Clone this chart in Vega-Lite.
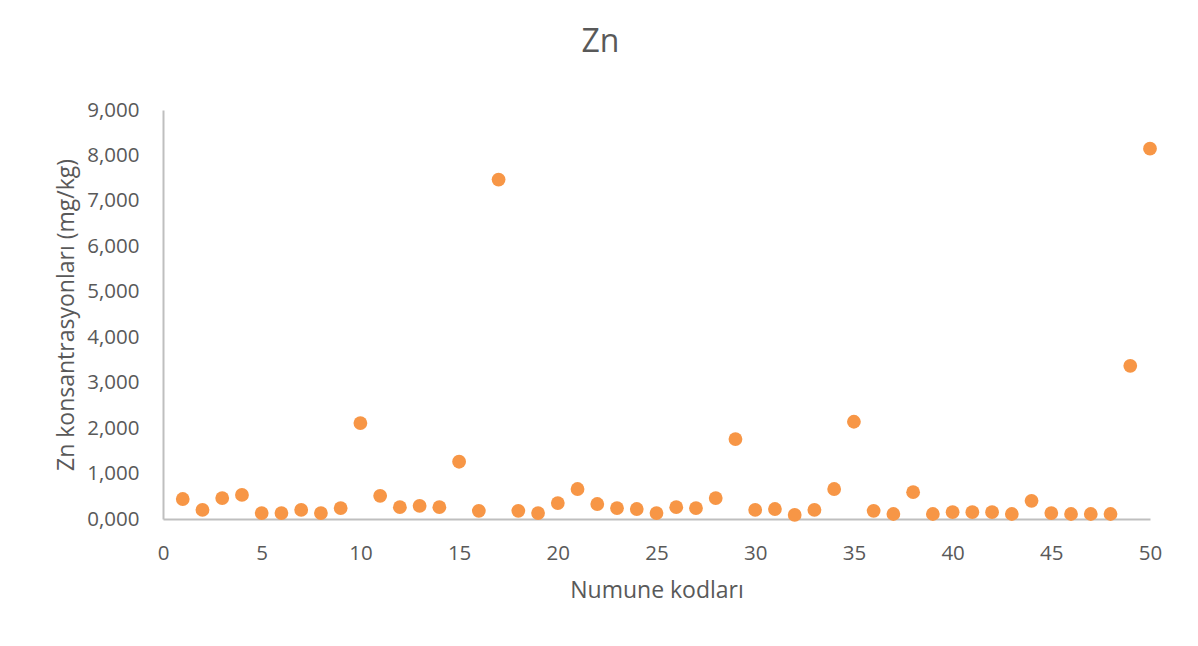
{
  "$schema": "https://vega.github.io/schema/vega-lite/v6.json",
  "autosize": "none",
  "width": 987,
  "height": 409,
  "padding": {"left": 163, "top": 110, "right": 48, "bottom": 127},
  "background": "white",
  "title": {
    "text": "Zn",
    "frame": "group",
    "anchor": "middle",
    "dx": -56,
    "offset": 41,
    "font": "Open Sans",
    "fontSize": 32,
    "fontWeight": "normal",
    "color": "#595959"
  },
  "data": {
    "values": [
      {"kod": 1, "zn": 0.44}, {"kod": 2, "zn": 0.20}, {"kod": 3, "zn": 0.46},
      {"kod": 4, "zn": 0.53}, {"kod": 5, "zn": 0.13}, {"kod": 6, "zn": 0.13},
      {"kod": 7, "zn": 0.20}, {"kod": 8, "zn": 0.13}, {"kod": 9, "zn": 0.24},
      {"kod": 10, "zn": 2.11}, {"kod": 11, "zn": 0.51}, {"kod": 12, "zn": 0.26},
      {"kod": 13, "zn": 0.29}, {"kod": 14, "zn": 0.26}, {"kod": 15, "zn": 1.26},
      {"kod": 16, "zn": 0.18}, {"kod": 17, "zn": 7.47}, {"kod": 18, "zn": 0.18},
      {"kod": 19, "zn": 0.13}, {"kod": 20, "zn": 0.35}, {"kod": 21, "zn": 0.66},
      {"kod": 22, "zn": 0.33}, {"kod": 23, "zn": 0.24}, {"kod": 24, "zn": 0.22},
      {"kod": 25, "zn": 0.13}, {"kod": 26, "zn": 0.26}, {"kod": 27, "zn": 0.24},
      {"kod": 28, "zn": 0.46}, {"kod": 29, "zn": 1.76}, {"kod": 30, "zn": 0.20},
      {"kod": 31, "zn": 0.22}, {"kod": 32, "zn": 0.09}, {"kod": 33, "zn": 0.20},
      {"kod": 34, "zn": 0.66}, {"kod": 35, "zn": 2.14}, {"kod": 36, "zn": 0.18},
      {"kod": 37, "zn": 0.11}, {"kod": 38, "zn": 0.59}, {"kod": 39, "zn": 0.11},
      {"kod": 40, "zn": 0.15}, {"kod": 41, "zn": 0.15}, {"kod": 42, "zn": 0.15},
      {"kod": 43, "zn": 0.11}, {"kod": 44, "zn": 0.40}, {"kod": 45, "zn": 0.13},
      {"kod": 46, "zn": 0.11}, {"kod": 47, "zn": 0.11}, {"kod": 48, "zn": 0.11},
      {"kod": 49, "zn": 3.37}, {"kod": 50, "zn": 8.15}
    ]
  },
  "mark": {"type": "circle", "size": 190, "color": "#F79646", "opacity": 1},
  "encoding": {
    "x": {
      "field": "kod",
      "type": "quantitative",
      "scale": {"domain": [0, 50], "nice": false, "zero": false},
      "axis": {
        "title": "Numune kodları",
        "values": [0, 5, 10, 15, 20, 25, 30, 35, 40, 45, 50],
        "grid": false,
        "ticks": false,
        "labelPadding": 24,
        "titlePadding": 16
      }
    },
    "y": {
      "field": "zn",
      "type": "quantitative",
      "scale": {"domain": [0, 9], "nice": false},
      "axis": {
        "title": "Zn konsantrasyonları (mg/kg)",
        "values": [0, 1, 2, 3, 4, 5, 6, 7, 8, 9],
        "labelExpr": "replace(format(datum.value, '.3f'), '.', ',')",
        "grid": false,
        "ticks": false,
        "labelPadding": 24,
        "titlePadding": 8
      }
    }
  },
  "config": {
    "view": {"stroke": null},
    "axis": {
      "domainColor": "#BFBFBF",
      "domainWidth": 2,
      "labelFont": "Open Sans",
      "labelFontSize": 20.5,
      "labelColor": "#595959",
      "titleFont": "Open Sans",
      "titleFontSize": 23,
      "titleFontWeight": "normal",
      "titleColor": "#595959",
      "labelFlush": false,
      "labelOverlap": false
    }
  }
}
